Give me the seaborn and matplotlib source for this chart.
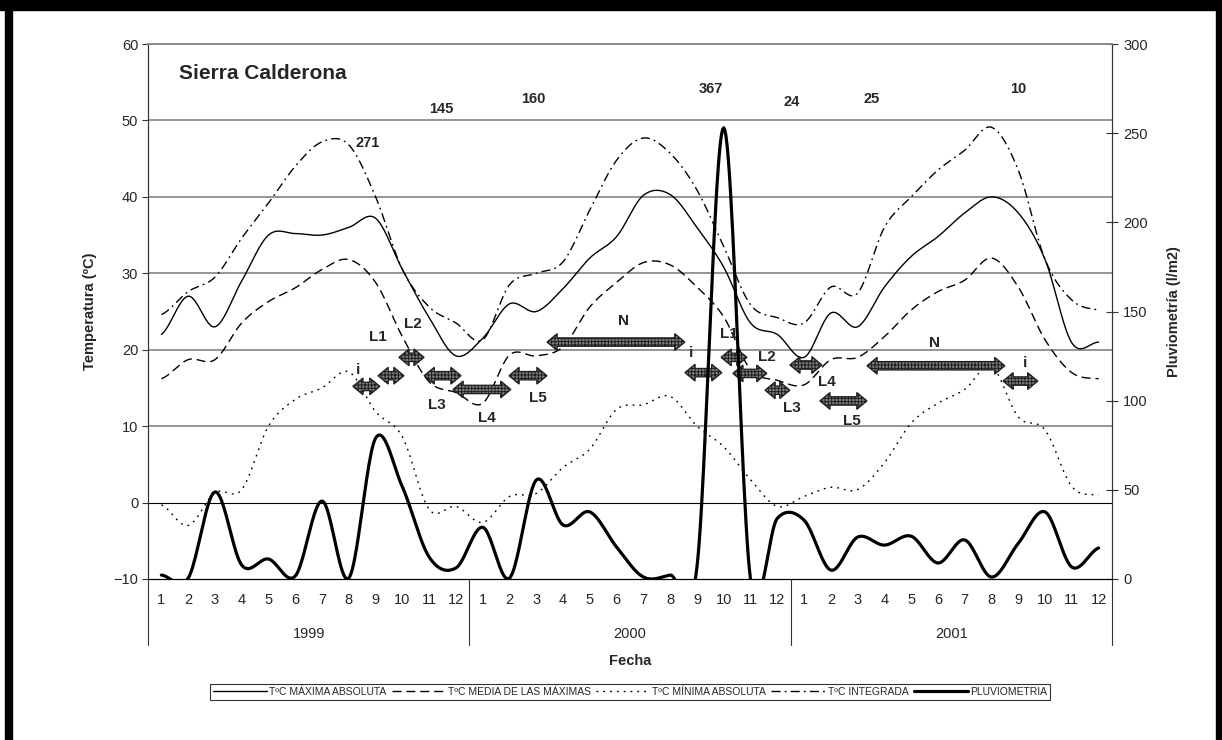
import matplotlib.pyplot as plt
import matplotlib.patches as mpatches
import matplotlib.transforms as mtransforms
import numpy as np
import seaborn as sns

# datos mensuales 1999-2001
years = ['1999', '2000', '2001']
months = [str(m) for m in range(1, 13)] * 3

maxima = [22.0, 27.0, 23.0, 29.0, 35.0, 35.2, 35.0, 36.0, 37.2, 30.5, 24.2, 19.2,
          21.5, 26.0, 25.0, 28.0, 32.0, 34.8, 40.2, 40.3, 36.0, 30.8, 23.5, 22.0,
          19.0, 24.8, 23.0, 28.2, 32.2, 34.8, 37.9, 40.0, 37.9, 31.8, 20.9, 21.0]
media = [16.2, 18.7, 18.7, 23.5, 26.3, 28.1, 30.5, 31.8, 28.8, 21.7, 15.8, 14.4,
         13.0, 19.3, 19.2, 20.4, 25.6, 28.8, 31.4, 31.1, 28.2, 24.3, 17.4, 16.0,
         15.4, 18.7, 19.0, 21.7, 25.2, 27.6, 29.1, 32.0, 28.2, 21.3, 17.0, 16.2]
minima = [-0.3, -3.0, 1.3, 1.7, 10.0, 13.5, 15.0, 17.1, 11.9, 8.6, -0.9, -0.5,
          -2.6, 0.8, 1.2, 4.6, 7.0, 12.2, 12.8, 13.9, 10.0, 7.3, 3.0, -0.5,
          0.8, 2.0, 1.7, 5.2, 10.4, 13.0, 14.8, 17.8, 11.2, 9.5, 2.1, 1.0]
integrada = [24.6, 27.6, 29.5, 34.6, 39.2, 44.0, 47.2, 46.8, 40.0, 30.5, 25.6, 23.5,
             21.3, 28.5, 30.0, 31.5, 38.3, 44.8, 47.7, 45.7, 40.9, 33.5, 25.9, 24.2,
             23.5, 28.2, 27.4, 36.0, 40.0, 43.5, 46.1, 49.1, 43.5, 31.8, 26.5, 25.2]
pluvio = [2.2, 0.5, 48.8, 7.8, 11.2, 1.7, 43.7, 0.5, 79.0, 51.6, 12.3, 6.2,
          29.0, 0.5, 55.5, 30.3, 37.6, 17.9, 1.1, 2.2, 6.7, 253.0, 0.0, 34.0,
          33.0, 5.0, 23.5, 19.0, 24.0, 9.0, 21.9, 1.1, 20.0, 37.6, 6.7, 17.4]

# totales anotados arriba
tot_text = ['271', '145', '160', '367', '24', '25', '10']
tot_x = [8.21, 10.94, 14.38, 21.02, 24.05, 27.03, 32.49]
tot_y = [47.1, 51.5, 52.8, 54.1, 52.4, 52.8, 54.1]

# fases (flechas dobles)
fase_x0 = [7.65, 8.59, 9.37, 10.31, 11.39, 13.48, 14.90, 20.05, 21.40, 21.84, 23.04, 23.97, 25.09, 26.85, 31.93]
fase_x1 = [8.66, 9.56, 10.31, 11.69, 13.55, 14.90, 20.05, 21.43, 22.37, 23.11, 23.97, 25.17, 26.85, 32.00, 33.23]
fase_y = [15.2, 16.6, 19.0, 16.6, 14.8, 16.6, 21.0, 17.0, 19.0, 16.9, 14.7, 18.0, 13.3, 17.9, 15.9]
fase_lbl = ['i', 'L1', 'L2', 'L3', 'L4', 'L5', 'N', 'i', 'L1', 'L2', 'L3', 'L4', 'L5', 'N', 'i']
lbl_x = [7.84, 8.59, 9.90, 10.79, 12.66, 14.56, 17.77, 20.28, 21.70, 23.11, 24.05, 25.35, 26.29, 29.39, 32.75]
lbl_y = [17.4, 21.6, 23.3, 12.8, 11.0, 13.7, 23.7, 19.6, 22.0, 19.1, 12.4, 15.8, 10.7, 20.9, 18.3]


# suavizado tipo Excel (Catmull-Rom)
def smooth(y, n=24):
    y = np.asarray(y, float)
    p = np.concatenate([[y[0]], y, [y[-1]]])
    t = np.linspace(0, 1, n, endpoint=False)
    xs, ys = [], []
    for i in range(len(y) - 1):
        p0, p1, p2, p3 = p[i], p[i + 1], p[i + 2], p[i + 3]
        ys.append(0.5 * (2 * p1 + (p2 - p0) * t + (2 * p0 - 5 * p1 + 4 * p2 - p3) * t ** 2
                         + (3 * p1 - p0 - 3 * p2 + p3) * t ** 3))
        xs.append(i + t)
    xs.append([len(y) - 1])
    ys.append([y[-1]])
    return np.concatenate(xs) + 0.5, np.concatenate(ys)


sns.set_style('white')
plt.rcParams['font.family'] = ['Liberation Sans', 'DejaVu Sans']
plt.rcParams['hatch.linewidth'] = 0.7

fig = plt.figure(figsize=(12.22, 7.40), dpi=100)
ax = fig.add_axes([148 / 1222, 1 - 579 / 740, 964 / 1222, 535 / 740])
ax2 = ax.twinx()

series = [
    (maxima, 'TºC MÁXIMA ABSOLUTA', '-', 1.0),
    (media, 'TºC MEDIA DE LAS MÁXIMAS', (0, (6.5, 3.5)), 1.0),
    (minima, 'TºC MÍNIMA ABSOLUTA', (0, (1.3, 3.6)), 1.0),
    (integrada, 'TºC INTEGRADA', (0, (6.5, 3, 1.3, 3)), 1.0),
]
for vals, name, ls, lw in series:
    xs, ys = smooth(vals)
    sns.lineplot(x=xs, y=ys, ax=ax, color='black', linewidth=lw, linestyle=ls, label=name, legend=False)

xs, ys = smooth(pluvio)
sns.lineplot(x=xs, y=ys, ax=ax2, color='black', linewidth=2.3, label='PLUVIOMETRIA', legend=False)

ax.set_xlim(0, 36)
ax.set_ylim(-10, 60)
ax2.set_ylim(0, 300)
ax.set_yticks(range(-10, 61, 10))
ax2.set_yticks(range(0, 301, 50))

# rejilla
for v in range(10, 61, 10):
    ax.axhline(v, color='#8c8c8c', lw=1.3, zorder=0)
ax.axhline(0, color='black', lw=0.8, zorder=0)

# eje de categorias
ax.set_xticks(np.arange(36) + 0.5)
ax.set_xticklabels(months, fontsize=10.5)
ax.set_xticks(np.arange(37), minor=True)
ax.tick_params(axis='x', which='major', length=0, pad=10)
ax.tick_params(axis='x', which='minor', length=24, width=0.8, color='#333333', direction='out')
ax.tick_params(axis='y', length=4, width=0.8, color='#333333', labelsize=10.5, pad=3)
ax2.tick_params(axis='y', length=8, width=0.8, color='#333333', direction='inout', labelsize=10.5, pad=4)

trans = mtransforms.blended_transform_factory(ax.transData, ax.transAxes)
for k in range(4):
    ax.plot([12 * k, 12 * k], [0, -0.123], color='#333333', lw=0.8, transform=trans, clip_on=False)
for k, yr in enumerate(years):
    ax.text(12 * k + 6, -0.103, yr, transform=trans, ha='center', va='center', fontsize=10.5)
ax.text(18, -0.153, 'Fecha', transform=trans, ha='center', va='center', fontsize=10.5, fontweight='bold')

for a in (ax, ax2):
    a.spines['top'].set_color('#8c8c8c')
    a.spines['top'].set_linewidth(1.3)
    a.spines['left'].set_color('#333333')
    a.spines['right'].set_color('#333333')
    a.spines['bottom'].set_color('black')
    for s in ('left', 'right', 'bottom'):
        a.spines[s].set_linewidth(0.8)

ax.set_ylabel('Temperatura (ºC)', fontsize=10.5, fontweight='bold')
ax.yaxis.set_label_coords(-0.053, 0.5)
ax2.set_ylabel('Pluviometría (l/m2)', fontsize=10.5, fontweight='bold')
ax2.yaxis.set_label_coords(1.057, 0.5)

ax.text(1.15, 56.2, 'Sierra Calderona', fontsize=15, fontweight='bold', ha='left', va='center')

for t, x, y in zip(tot_text, tot_x, tot_y):
    ax.text(x, y, t, fontsize=10.5, fontweight='bold', ha='center', va='center')

# flechas dobles de fases
hl = 0.38   # largo de cabeza (meses)
hh = 1.1    # media altura de cabeza (ºC)
sh = 0.55   # media altura del cuerpo (ºC)
for x0, x1, y in zip(fase_x0, fase_x1, fase_y):
    verts = [(x0, y), (x0 + hl, y + hh), (x0 + hl, y + sh), (x1 - hl, y + sh), (x1 - hl, y + hh),
             (x1, y), (x1 - hl, y - hh), (x1 - hl, y - sh), (x0 + hl, y - sh), (x0 + hl, y - hh)]
    ax.add_patch(mpatches.Polygon(verts, closed=True, facecolor='#7d7d7d', edgecolor='#1e1e1e',
                                  hatch='+++++', lw=0.9, zorder=4))
for t, x, y in zip(fase_lbl, lbl_x, lbl_y):
    ax.text(x, y, t, fontsize=11, fontweight='bold', ha='center', va='center', zorder=5)

# leyenda
h1, l1 = ax.get_legend_handles_labels()
h2, l2 = ax2.get_legend_handles_labels()
leg = fig.legend(h1 + h2, l1 + l2, ncol=5, loc='center', bbox_to_anchor=(0.5155, 0.0649),
                 frameon=True, fancybox=False, edgecolor='black', handlelength=5.2,
                 handletextpad=0.2, columnspacing=0.5, borderpad=0.3,
                 prop={'family': ['Liberation Sans Narrow', 'Liberation Sans'], 'size': 7.5})
leg.get_frame().set_linewidth(0.8)

# marco negro de la figura
fig.add_artist(mpatches.Rectangle((5 / 1222, 0), 7 / 1222, 1, transform=fig.transFigure, color='black'))
fig.add_artist(mpatches.Rectangle((1216 / 1222, 0), 6 / 1222, 1, transform=fig.transFigure, color='black'))
fig.add_artist(mpatches.Rectangle((0, 1 - 10 / 740), 1, 10 / 740, transform=fig.transFigure, color='black'))

fig.savefig('out.png', dpi=100)
